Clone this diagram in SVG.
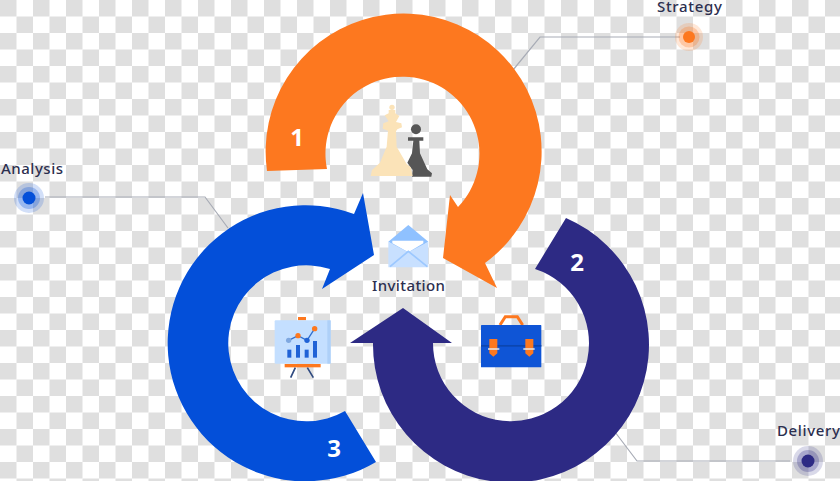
<svg xmlns="http://www.w3.org/2000/svg" width="840" height="481" viewBox="0 0 840 481">
<style>
.lbl{font-family:"Noto Sans","Open Sans","Liberation Sans",sans-serif;font-weight:500;font-size:15px;fill:#2c2f4f}
.num{font-family:"Noto Sans","Open Sans","Liberation Sans",sans-serif;font-weight:700;font-size:24px;fill:#fff;text-anchor:middle}
.conn{fill:none;stroke:#a8acb6;stroke-width:1.2}
</style>
<defs>
<pattern id="chk" width="33" height="33" patternUnits="userSpaceOnUse">
<rect width="33" height="33" fill="#fff"/>
<rect width="16.5" height="16.5" fill="#dfdfdf"/>
<rect x="16.5" y="16.5" width="16.5" height="16.5" fill="#dfdfdf"/>
</pattern>
</defs>
<rect id="background" width="840" height="481" fill="url(#chk)"/>
<g id="connectors">
<path class="conn" d="M680,37 H540 L513,70"/>
<path class="conn" d="M45,197 H205 L228,228"/>
<path class="conn" d="M790,461 H637 L615,432"/>
</g>
<g id="arc-2">
<path fill="#2d2a84" d="M566,218 A138 138 0 1 1 373,343 L350,343 L403,308 L452,343 L433,343 A78 78 0 1 0 535,269 Z"/>
<text class="num" x="577" y="271">2</text>
</g>
<g id="arc-3">
<path fill="#034fd9" d="M376,462 A138 138 0 1 1 354,214 L363,193 L374,255 L322,289 L330,269 A78 78 0 1 0 345,411 Z"/>
<text class="num" x="334" y="457">3</text>
</g>
<g id="arc-1">
<path fill="#fd781f" d="M267,171 A138 138 0 1 1 485,263 L497,288 L443,258 L450,195 L458,207 A77 77 0 1 0 327,169 Z"/>
<text class="num" x="297" y="146">1</text>
</g>
<g id="chess" transform="translate(340,90) scale(.3333)">
<circle cx="228" cy="118" r="15" fill="#565656"/>
<path fill="#565656" d="M204,142 L250,142 L250,152 L238,152 L240,190 L262,238 L276,250 L274,260 L216,260 L218,240 L202,218 L216,190 L220,152 L204,152Z"/>
<circle cx="156" cy="52" r="8" fill="#fbe3b8"/>
<path fill="#fbe3b8" d="M146,60 L166,60 L166,70 L178,78 L168,96 L184,100 L186,112 L172,118 L168,124 L170,170 L200,222 L212,232 L218,258 L92,258 L96,240 L120,218 L140,170 L144,122 L128,116 L130,100 L146,94 L134,76 L146,70Z"/>
</g>
<g id="invitation">
<g transform="translate(340,190) scale(.3333)">
<path fill="#8fc1ff" d="M145,155 L205,105 L265,155 L205,195Z"/>
<path fill="#fff" d="M157,152 L250,152 L250,160 L205,187 L157,160Z"/>
<path fill="#c8e0ff" d="M145,155 L205,187 L265,155 L265,232 L145,232Z"/>
<path fill="none" stroke="#9cc8ff" stroke-width="5" d="M150,230 L205,184 L262,230"/>
</g>
<text class="lbl" x="372" y="291" textLength="73">Invitation</text>
</g>
<g id="chart" transform="translate(260,305) scale(.3333)">
<rect x="114" y="36" width="24" height="10" fill="#fd781f"/>
<rect x="44" y="46" width="168" height="130" rx="3" fill="#c4dfff"/>
<rect x="202" y="46" width="10" height="130" fill="#aed0f8"/>
<rect x="74" y="177" width="108" height="10" fill="#fd781f"/>
<path d="M106,188 L92,218 M142,188 L160,218" stroke="#2f4a80" stroke-width="5" fill="none"/>
<g fill="#1f62d6">
<rect x="82" y="134" width="12" height="24"/>
<rect x="108" y="120" width="12" height="38"/>
<rect x="134" y="134" width="12" height="24"/>
<rect x="159" y="108" width="12" height="50"/>
</g>
<path d="M86,106 L114,92 L141,106 L164,71" stroke="#2f6fd0" stroke-width="4" fill="none"/>
<circle cx="86" cy="106" r="8" fill="#7fa8e0"/>
<circle cx="114" cy="92" r="8" fill="#fd781f"/>
<circle cx="141" cy="106" r="8" fill="#1f62d6"/>
<circle cx="164" cy="71" r="8" fill="#fd781f"/>
</g>
<g id="briefcase" transform="translate(470,305) scale(.3333)">
<path d="M90,60 L106,35 L142,35 L158,60" fill="none" stroke="#fd781f" stroke-width="9"/>
<rect x="33" y="60" width="181" height="127" rx="2" fill="#0f55d6"/>
<rect x="33" y="120" width="181" height="5" fill="#0b46b0"/>
<path fill="#fd781f" d="M58,102 H82 V145 L70,155 L58,145Z M166,102 H190 V145 L178,155 L166,145Z"/>
<path stroke="#e8e8e8" stroke-width="5" d="M54,132 H88 M160,132 H194"/>
</g>
<g id="strategy">
<circle cx="689" cy="37" r="14" fill="#fd781f" opacity=".18"/>
<circle cx="689" cy="37" r="10.5" fill="#fd781f" opacity=".28"/>
<circle cx="689" cy="37" r="6" fill="#fd781f"/>
<text class="lbl" x="657" y="12" textLength="65">Strategy</text>
</g>
<g id="analysis">
<circle cx="29" cy="198" r="15" fill="#034fd9" opacity=".18"/>
<circle cx="29" cy="198" r="11" fill="#034fd9" opacity=".28"/>
<circle cx="29" cy="198" r="6.5" fill="#034fd9"/>
<text class="lbl" x="1" y="174" textLength="62">Analysis</text>
</g>
<g id="delivery">
<circle cx="808" cy="461" r="15" fill="#2d2a84" opacity=".18"/>
<circle cx="808" cy="461" r="11" fill="#2d2a84" opacity=".28"/>
<circle cx="808" cy="461" r="6.5" fill="#2d2a84"/>
<text class="lbl" x="777" y="436" textLength="63">Delivery</text>
</g>
</svg>
